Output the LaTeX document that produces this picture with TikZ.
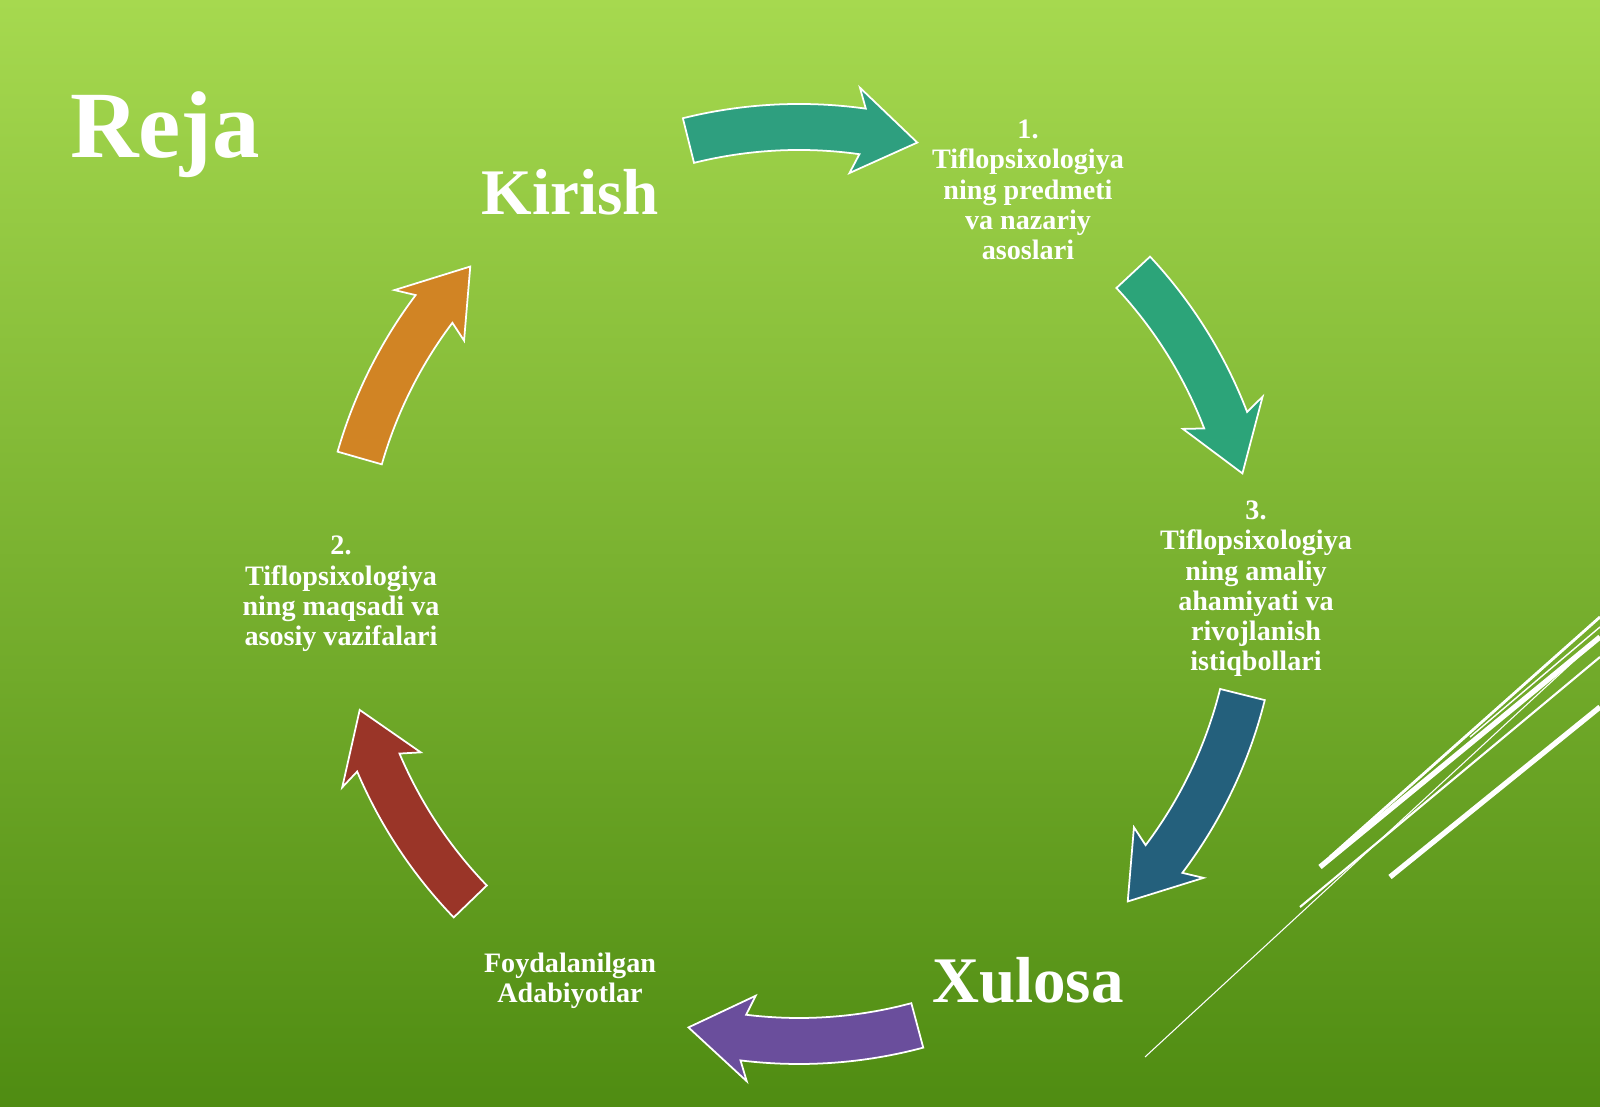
\documentclass[tikz,border=0pt]{standalone}
\usepackage{fontspec}
\setmainfont{Liberation Serif}
\usetikzlibrary{positioning}

\definecolor{bgtop}{HTML}{A6D94F}
\definecolor{bgbot}{HTML}{4F8C12}
\definecolor{cteal}{HTML}{2E9F7F}
\definecolor{cblue}{HTML}{24607C}
\definecolor{cpurple}{HTML}{6A4E9C}
\definecolor{cred}{HTML}{9A3528}
\definecolor{corange}{HTML}{D18424}

% clockwise block arrow on the cycle: colour, start angle, end angle
\newcommand\cycarrow[3]{%
  \fill[#1, draw=white, line width=0.5pt]
    (#2:480) arc[start angle=#2, end angle={#3+7}, radius=480]
    -- ({#3+8}:500) -- (#3:457) -- ({#3+8}:414) -- ({#3+7}:434)
    arc[start angle={#3+7}, end angle=#2, radius=434] -- cycle;}

\begin{document}
\begin{tikzpicture}[x=0.01cm, y=0.01cm,
    big/.style={text=white, font=\bfseries\fontsize{18.5}{20}\selectfont},
    item/.style={text=white, align=center,
      font=\bfseries\fontsize{8}{8.6}\selectfont}]
\shade[top color=bgtop, bottom color=bgbot] (0,0) rectangle (1600,1107);
\useasboundingbox (0,0) rectangle (1600,1107);

% decorative lines
\foreach \a/\b/\c/\d/\w in {1145/50/1600/470/0.3, 1320/240/1600/470/1.5,
    1330/250/1600/490/0.8, 1300/200/1600/450/0.6, 1390/230/1600/400/1.5,
    1470/370/1600/480/0.4}
  \draw[white, line width=\w pt] (\a,\b) -- (\c,\d);

\node[text=white, font=\bfseries\fontsize{27}{30}\selectfont] (reja) at (165,972) {Reja};

\node[big] (kirish) at (570,915) {Kirish};
\node[item] (predmet) at (1028,917) {1.\\Tiflopsixologiya\\ning predmeti\\va nazariy\\asoslari};
\node[item] (amaliy) at (1256,518) {3.\\Tiflopsixologiya\\ning amaliy\\ahamiyati va\\rivojlanish\\istiqbollari};
\node[big] (xulosa) at (1028,127) {Xulosa};
\node[item] (adab) at (570,126) {Foydalanilgan\\Adabiyotlar};
\node[item] (maqsad) at (341,513) {2.\\Tiflopsixologiya\\ning maqsadi va\\asosiy vazifalari};

\begin{scope}[shift={(799,523)}]
  \cycarrow{cteal}{104}{75}
  \cycarrow{cteal!95!green}{43}{14}
  \cycarrow{cblue}{-14}{-44}
  \cycarrow{cpurple}{-75}{-104}
  \cycarrow{cred}{-136}{-164}
  \cycarrow{corange}{164}{136}
\end{scope}
\end{tikzpicture}
\end{document}
